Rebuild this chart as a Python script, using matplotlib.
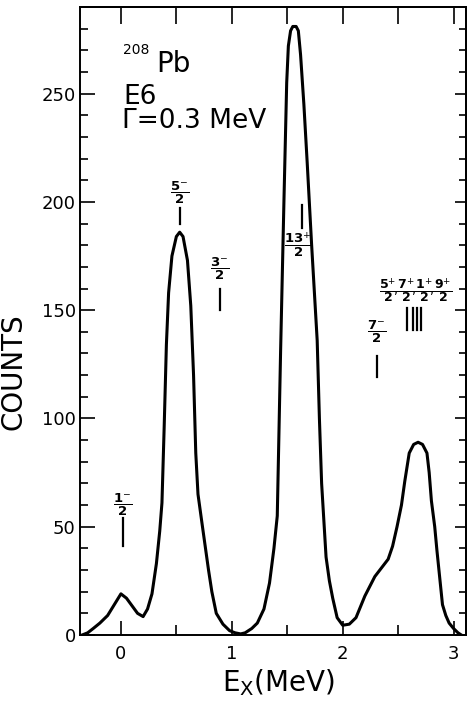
import matplotlib
matplotlib.use('Agg')
import matplotlib.pyplot as plt
from matplotlib.ticker import MultipleLocator, FixedLocator

plt.rcParams['font.family'] = ['DejaVu Sans']
plt.rcParams['mathtext.fontset'] = 'dejavusans'

# Spectrum (excitation energy in MeV, counts)
energy = [-0.35, -0.30, -0.25, -0.19, -0.12, -0.06, 0.00, 0.05, 0.10, 0.15,
          0.20, 0.24, 0.28, 0.32, 0.35, 0.37, 0.39, 0.41, 0.43, 0.46,
          0.50, 0.53, 0.56, 0.60, 0.63, 0.655, 0.675, 0.695, 0.73, 0.76,
          0.79, 0.82, 0.86, 0.92, 0.98, 1.03, 1.08, 1.12, 1.18, 1.23,
          1.29, 1.34, 1.38, 1.41, 1.44, 1.47, 1.495, 1.51, 1.53, 1.55,
          1.58, 1.60, 1.62, 1.65, 1.68, 1.72, 1.77, 1.79, 1.81, 1.85,
          1.88, 1.91, 1.95, 2.00, 2.06, 2.12, 2.16, 2.20, 2.25, 2.29,
          2.35, 2.41, 2.45, 2.49, 2.53, 2.56, 2.60, 2.64, 2.68, 2.72,
          2.76, 2.78, 2.80, 2.83, 2.85, 2.88, 2.90, 2.93, 2.96, 3.00,
          3.04, 3.07]
counts = [0, 1, 3, 5.5, 9, 14, 19, 17, 13.5, 10,
          8.5, 12, 19, 33, 48, 61, 96, 134, 158, 175,
          184, 186, 184, 173, 152, 120, 84, 65, 52, 41,
          30, 20, 10, 5, 2, 1, 0.5, 1, 3, 5.5,
          12, 24, 40, 55, 131, 200, 255, 272, 279, 281,
          281, 279, 268, 245, 218, 180, 136, 100, 70, 36,
          25, 17, 8, 4.5, 5, 8, 13, 18, 23, 27,
          31, 35, 41, 50, 60, 71, 84, 88, 89, 88,
          84, 75, 62, 50, 39, 24, 14, 9, 5.5, 3,
          1, 0]

# Level markers: energy, line top/bottom, label and label position
level_x = [0.02, 0.53, 0.89, 1.63, 2.31]
level_top = [54, 197, 160, 198.5, 129]
level_bot = [41, 190, 150, 188, 119]
level_labels = [r'$\dfrac{\mathbf{1}^{-}}{\mathbf{2}}$',
                r'$\dfrac{\mathbf{5}^{-}}{\mathbf{2}}$',
                r'$\dfrac{\mathbf{3}^{-}}{\mathbf{2}}$',
                r'$\dfrac{\mathbf{13}^{+}}{\mathbf{2}}$',
                r'$\dfrac{\mathbf{7}^{-}}{\mathbf{2}}$']
label_x = [0.02, 0.53, 0.89, 1.60, 2.31]
label_y = [60, 204, 169, 180, 140]

cluster_x = [2.58, 2.63, 2.67, 2.71]
cluster_top = 151
cluster_bot = 141
cluster_label = (r'$\dfrac{\mathbf{5}^{+}}{\mathbf{2}}\!\!,\!\dfrac{\mathbf{7}^{+}}{\mathbf{2}}\!\!,\!'
                 r'\dfrac{\mathbf{1}^{+}}{\mathbf{2}}\!\!,\!\dfrac{\mathbf{9}^{+}}{\mathbf{2}}$')

x_ticks = [0, 1, 2, 3]
y_ticks = [0, 50, 100, 150, 200, 250]

fig = plt.figure(figsize=(4.70, 7.05), dpi=100)
ax = fig.add_axes([0.170, 0.0993, 0.821, 0.8908])

ax.plot(energy, counts, color='black', lw=2.2, solid_joinstyle='round')

for x, t, b in zip(level_x, level_top, level_bot):
    ax.plot([x, x], [b, t], color='black', lw=1.6)
for x, y, s in zip(label_x, label_y, level_labels):
    ax.text(x, y, s, ha='center', va='center', fontsize=9.5)
for x in cluster_x:
    ax.plot([x, x], [cluster_bot, cluster_top], color='black', lw=1.6)
ax.text(2.66, 159, cluster_label, ha='center', va='center', fontsize=9)

ax.text(0.02, 268.5, '208', fontsize=10, ha='left', va='baseline')
ax.text(0.32, 260, 'Pb', fontsize=20, ha='left', va='baseline')
ax.text(0.02, 245, 'E6', fontsize=19, ha='left', va='baseline')
ax.text(0.01, 234, 'Γ=0.3 MeV', fontsize=19, ha='left', va='baseline')

ax.set_xlim(-0.37, 3.11)
ax.set_ylim(0, 290)

for sp in ax.spines.values():
    sp.set_linewidth(1.4)

ax.xaxis.set_major_locator(FixedLocator(x_ticks))
ax.xaxis.set_minor_locator(MultipleLocator(0.5))
ax.yaxis.set_major_locator(FixedLocator(y_ticks))
ax.yaxis.set_minor_locator(MultipleLocator(10))
ax.tick_params(axis='both', which='both', direction='in', width=1.2,
               top=False, right=False, labelsize=13)
ax.tick_params(axis='x', which='major', length=10, pad=7)
ax.tick_params(axis='x', which='minor', length=7)
ax.tick_params(axis='y', which='major', length=11, pad=3)
ax.tick_params(axis='y', which='minor', length=6)

top = ax.secondary_xaxis('top')
top.xaxis.set_major_locator(MultipleLocator(0.5))
top.tick_params(direction='in', length=12, width=1.2, labeltop=False)
top.spines['top'].set_linewidth(1.4)

right = ax.secondary_yaxis('right')
right.yaxis.set_major_locator(FixedLocator(y_ticks))
right.yaxis.set_minor_locator(MultipleLocator(10))
right.tick_params(which='major', direction='in', length=8, width=1.2, labelright=False)
right.tick_params(which='minor', direction='in', length=5, width=1.2, labelright=False)
right.spines['right'].set_linewidth(1.4)

ax.set_ylabel('COUNTS', fontsize=20)
ax.yaxis.set_label_coords(-0.135, 0.419)
ax.set_xlabel(r'E$_{\mathrm{X}}$(MeV)', fontsize=20)
ax.xaxis.set_label_coords(0.515, -0.052)

fig.savefig('out.png', dpi=100)
